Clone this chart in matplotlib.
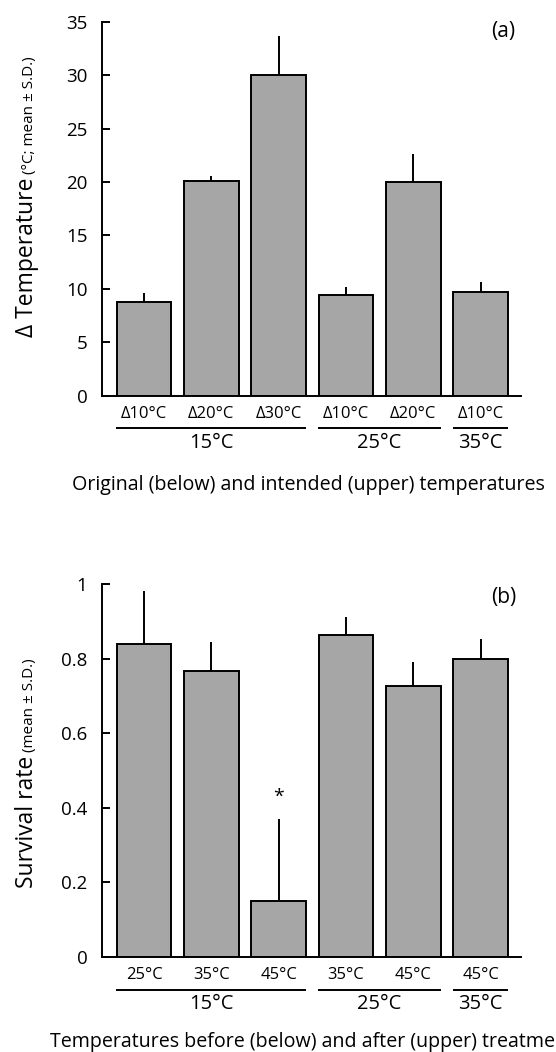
import matplotlib
matplotlib.use('Agg')
import matplotlib.pyplot as plt
from matplotlib.transforms import ScaledTranslation

plt.rcParams['font.family'] = ['Open Sans', 'DejaVu Sans']

# ---------------- data ----------------
a_sub_labels = ['Δ10°C', 'Δ20°C', 'Δ30°C', 'Δ10°C', 'Δ20°C', 'Δ10°C']
a_means = [8.8, 20.1, 30.0, 9.4, 20.0, 9.7]
a_sd = [0.8, 0.45, 3.7, 0.8, 2.6, 0.9]
a_yticks = [0, 5, 10, 15, 20, 25, 30, 35]
a_ytick_labels = ['0', '5', '10', '15', '20', '25', '30', '35']

b_sub_labels = ['25°C', '35°C', '45°C', '35°C', '45°C', '45°C']
b_means = [0.84, 0.768, 0.15, 0.862, 0.726, 0.80]
b_sd = [0.142, 0.076, 0.219, 0.049, 0.064, 0.052]
b_yticks = [0, 0.2, 0.4, 0.6, 0.8, 1.0]
b_ytick_labels = ['0', '0.2', '0.4', '0.6', '0.8', '1']

group_labels = ['15°C', '25°C', '35°C']
group_spans = [(0, 2), (3, 4), (5, 5)]

# ---------------- layout ----------------
W, H = 556, 1052
fig = plt.figure(figsize=(W / 100, H / 100), dpi=100)


def fx(px):
    return px / W


def fy(py):
    return 1 - py / H


BAR_COLOR = '#a6a6a6'
LW = 1.4


def panel(y_top, y_bot, ymax, means, sd, sub_labels, yticks, yticklabels):
    ax = fig.add_axes([fx(102), fy(y_bot), fx(521) - fx(102), (y_bot - y_top) / H])
    x = list(range(len(means)))
    ax.bar(x, means, width=0.81, color=BAR_COLOR, edgecolor='black',
           linewidth=LW, zorder=2)
    ax.errorbar(x, means, yerr=[[0] * len(sd), sd], fmt='none', ecolor='black',
                elinewidth=LW, capsize=0, zorder=1)
    ax.set_xlim(-0.624, 5.60)
    ax.set_ylim(0, ymax)
    for s in ['top', 'right']:
        ax.spines[s].set_visible(False)
    for s in ['left', 'bottom']:
        ax.spines[s].set_linewidth(LW)
    ax.set_xticks([])
    ax.set_yticks(yticks)
    ax.set_yticklabels(yticklabels)
    ax.tick_params(axis='y', direction='in', length=5.5, width=LW, pad=10.5,
                   labelsize=13.5)

    base = ax.get_xaxis_transform()
    t_sub = base + ScaledTranslation(0, -18 / 100, fig.dpi_scale_trans)
    t_line = base + ScaledTranslation(0, -32.5 / 100, fig.dpi_scale_trans)
    t_grp = base + ScaledTranslation(0, -47 / 100, fig.dpi_scale_trans)
    for i, lab in enumerate(sub_labels):
        ax.text(i, 0, lab, transform=t_sub, ha='center', va='center',
                fontsize=12)
    for (s, e), g in zip(group_spans, group_labels):
        ax.plot([s - 0.41, e + 0.41], [0, 0], transform=t_line, color='black',
                lw=LW, clip_on=False, solid_capstyle='butt')
        ax.text((s + e) / 2, 0, g, transform=t_grp, ha='center', va='center',
                fontsize=14.5)
    return ax


def ylabel(ax, big, small, x_px, y_start_px):
    t1 = fig.text(fx(x_px), fy(y_start_px), big, rotation=90,
                  rotation_mode='anchor', ha='left', va='baseline', fontsize=16.5)
    ax.annotate(small, xy=(fx(x_px), 1), xycoords=('figure fraction', t1),
                xytext=(0, 4), textcoords='offset pixels', rotation=90,
                rotation_mode='anchor', ha='left', va='baseline', fontsize=11,
                annotation_clip=False)


# panel (a)
ax_a = panel(21.7, 395.7, 35, a_means, a_sd, a_sub_labels, a_yticks, a_ytick_labels)
ylabel(ax_a, 'Δ Temperature', '(°C; mean ± S.D.)', 33, 337)
fig.text(fx(503), fy(32), '(a)', ha='center', va='center', fontsize=15)
fig.text(fx(72), fy(490), 'Original (below) and intended (upper) temperatures',
         ha='left', va='baseline', fontsize=14.1)

# panel (b)
ax_b = panel(584, 957, 1.0, b_means, b_sd, b_sub_labels, b_yticks, b_ytick_labels)
ylabel(ax_b, 'Survival rate', '(mean ± S.D.)', 33, 888)
fig.text(fx(504), fy(597), '(b)', ha='center', va='center', fontsize=15)
fig.text(fx(50), fy(1047),
         'Temperatures before (below) and after (upper) treatments',
         ha='left', va='baseline', fontsize=14.1)
ax_b.text(2, 0.43, '*', ha='center', va='center', fontsize=14)

fig.savefig('out.png', dpi=100)
